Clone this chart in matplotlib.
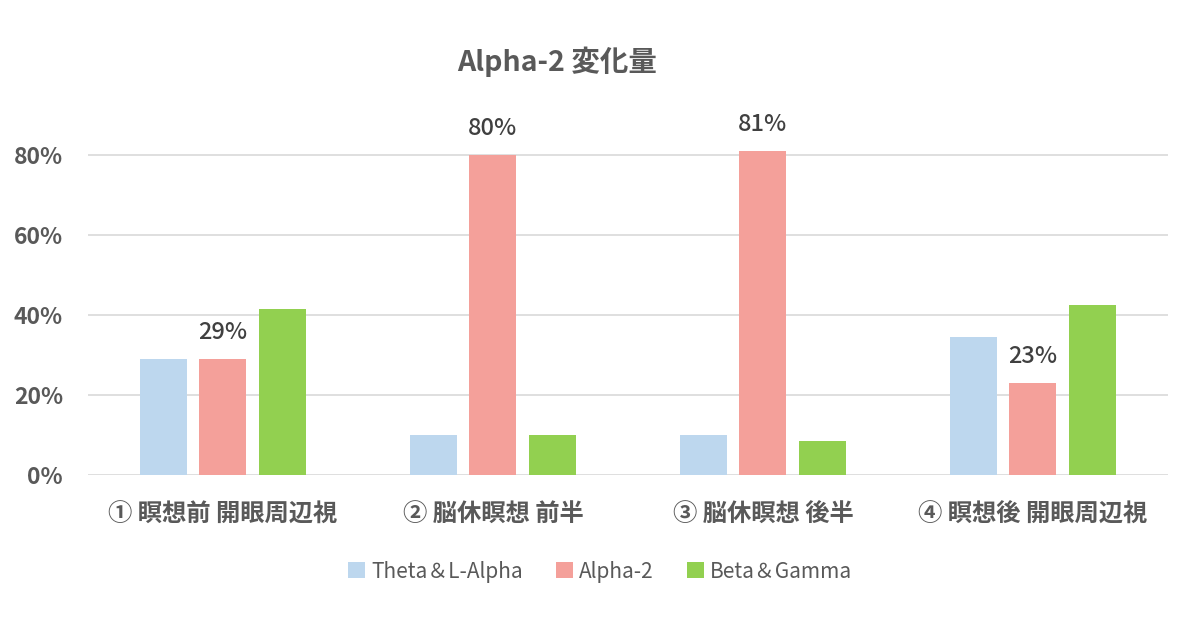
import matplotlib
matplotlib.use("Agg")
import matplotlib.pyplot as plt
import numpy as np
from matplotlib.ticker import PercentFormatter

plt.rcParams['font.family'] = ['Noto Sans CJK JP', 'DejaVu Sans']

categories = ["① 瞑想前 開眼周辺視", "② 脳休瞑想 前半", "③ 脳休瞑想 後半", "④ 瞑想後 開眼周辺視"]
series_names = ["Theta＆L-Alpha", "Alpha-2", "Beta＆Gamma"]
theta = [0.29, 0.10, 0.10, 0.345]
alpha2 = [0.29, 0.80, 0.81, 0.23]
beta = [0.415, 0.10, 0.085, 0.425]
labels_alpha2 = ["29%", "80%", "81%", "23%"]
yticks = [0, 0.2, 0.4, 0.6, 0.8]

colors = ["#BDD7EE", "#F4A09A", "#92D050"]

fig = plt.figure(figsize=(12, 6.18), dpi=100)
ax = fig.add_axes([0.0733, 0.2314, 0.9, 0.5825])

x = np.arange(len(categories))
w = 0.174
off = 0.222
for i, (vals, c, n) in enumerate(zip([theta, alpha2, beta], colors, series_names)):
    bars = ax.bar(x + (i - 1) * off, vals, width=w, color=c, label=n, zorder=3)
    if i == 1:
        for b, lab in zip(bars, labels_alpha2):
            ax.annotate(lab, (b.get_x() + b.get_width() / 2, b.get_height()),
                        xytext=(0, 11), textcoords="offset points",
                        ha="center", va="bottom", fontsize=17, color="#404040",
                        fontweight="medium")

ax.set_xlim(-0.5, len(categories) - 0.5)
ax.set_ylim(0, 0.9)
ax.set_yticks(yticks)
ax.yaxis.set_major_formatter(PercentFormatter(1.0, decimals=0))
ax.set_xticks(x)
ax.set_xticklabels(categories, fontsize=17.5, color="#595959", fontweight="bold")
ax.tick_params(axis="y", labelsize=16.5, labelcolor="#595959", length=0, pad=18)
ax.tick_params(axis="x", length=0, pad=20)
for lab in ax.get_yticklabels():
    lab.set_fontweight("bold")
ax.grid(axis="y", color="#D9D9D9", linewidth=1.2, zorder=0)
for s in ["top", "right", "left", "bottom"]:
    ax.spines[s].set_visible(False)

fig.text(0.464, 0.9, "Alpha-2 変化量", ha="center", va="center", fontsize=20.5,
         color="#595959", fontweight="bold")

leg = fig.legend(loc="center", bbox_to_anchor=(0.5, 0.075), ncol=3, frameon=False,
                 fontsize=15, handlelength=0.8, handleheight=0.8, handletextpad=0.3,
                 columnspacing=1.6)
for t in leg.get_texts():
    t.set_color("#595959")

fig.savefig("out.png", dpi=100, facecolor="white")
